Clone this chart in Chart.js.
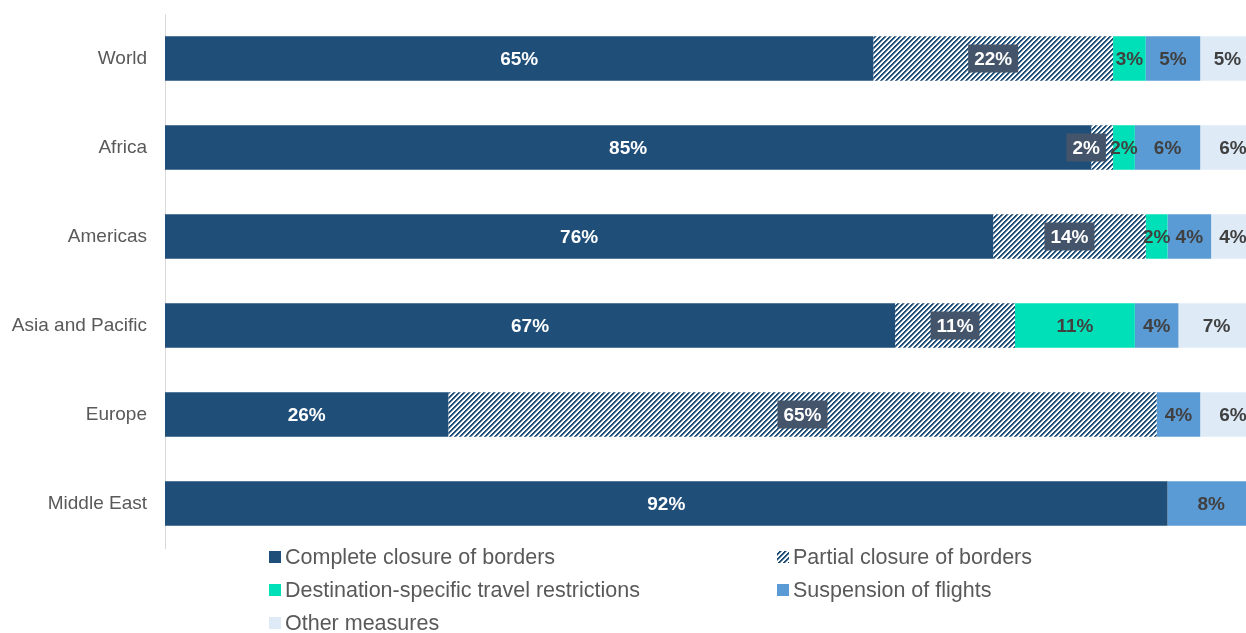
<!DOCTYPE html>
<html>
<head>
<meta charset="utf-8">
<script src="https://cdn.jsdelivr.net/npm/chart.js@4"></script>
<style>
  html, body { margin: 0; padding: 0; background: #fff; }
  #wrap { width: 1246px; height: 633px; }
</style>
</head>
<body>
<div id="wrap"><canvas id="chart" width="1246" height="633"></canvas></div>
<script>
const regions = ['World', 'Africa', 'Americas', 'Asia and Pacific', 'Europe', 'Middle East'];

const completeClosure = [65, 85, 76, 67, 26, 92];
const partialClosure  = [22, 2, 14, 11, 65, 0];
const destination     = [3, 2, 2, 11, 0, 0];
const flights         = [5, 6, 4, 4, 4, 8];
const otherMeasures   = [5, 6, 4, 7, 6, 0];

const NAVY = '#1f4e79';
const TEXT_DARK = '#404040';
const FONT = '"Liberation Sans", Arial, sans-serif';

// diagonal "/" stripes for the partial closure series, built pixel by pixel
function makeHatch() {
  const s = 5;
  const c = document.createElement('canvas');
  c.width = s; c.height = s;
  const g = c.getContext('2d');
  g.fillStyle = '#ffffff';
  g.fillRect(0, 0, s, s);
  for (let y = 0; y < s; y++) {
    for (let x = 0; x < s; x++) {
      const k = (x + y) % s;
      if (k < 2) g.fillStyle = NAVY;
      else if (k === 2) g.fillStyle = '#8fa7bc';
      else continue;
      g.fillRect(x, y, 1, 1);
    }
  }
  return g.createPattern(c, 'repeat');
}
const hatch = makeHatch();

// label style per series: text colour and whether it sits in a box
const labelStyle = [
  { color: '#ffffff', box: null },
  { color: '#ffffff', box: '#44546a' },
  { color: TEXT_DARK, box: null },
  { color: TEXT_DARK, box: null },
  { color: TEXT_DARK, box: null }
];
// the thin Africa partial slice gets its label pushed left so it does not cover its neighbour
const partialNudge = { Africa: -16 };

const valueLabels = {
  id: 'valueLabels',
  afterDatasetsDraw(chart) {
    const ctx = chart.ctx;
    ctx.save();
    ctx.font = 'bold 19px ' + FONT;
    ctx.textAlign = 'center';
    ctx.textBaseline = 'middle';
    chart.data.datasets.forEach((ds, di) => {
      const meta = chart.getDatasetMeta(di);
      const st = labelStyle[di];
      meta.data.forEach((bar, i) => {
        const v = ds.data[i];
        if (!v) return;
        let cx = (bar.x + bar.base) / 2;
        const cy = bar.y;
        const txt = v + '%';
        if (st.box) {
          cx += partialNudge[chart.data.labels[i]] || 0;
          const w = ctx.measureText(txt).width + 12;
          ctx.fillStyle = st.box;
          ctx.fillRect(cx - w / 2, cy - 14, w, 28);
        }
        ctx.fillStyle = st.color;
        ctx.fillText(txt, cx, cy + 1);
      });
    });
    ctx.restore();
  }
};

// two-column legend under the plot
const gridLegend = {
  id: 'gridLegend',
  afterDraw(chart) {
    const ctx = chart.ctx;
    const cols = [269, 777];
    const rows = [557, 590, 623];
    ctx.save();
    ctx.font = '21.5px ' + FONT;
    ctx.textBaseline = 'middle';
    ctx.textAlign = 'left';
    chart.data.datasets.forEach((ds, i) => {
      const x = cols[i % 2];
      const y = rows[Math.floor(i / 2)];
      ctx.fillStyle = ds.backgroundColor;
      ctx.fillRect(x, y - 6, 12, 12);
      ctx.fillStyle = '#595959';
      ctx.fillText(ds.label, x + 16, y + 1);
    });
    ctx.restore();
  }
};

new Chart(document.getElementById('chart'), {
  type: 'bar',
  data: {
    labels: regions,
    datasets: [
      { label: 'Complete closure of borders', data: completeClosure, backgroundColor: NAVY },
      { label: 'Partial closure of borders', data: partialClosure, backgroundColor: hatch },
      { label: 'Destination-specific travel restrictions', data: destination, backgroundColor: '#00e0b8' },
      { label: 'Suspension of flights', data: flights, backgroundColor: '#5b9bd5' },
      { label: 'Other measures', data: otherMeasures, backgroundColor: '#deebf7' }
    ]
  },
  options: {
    indexAxis: 'y',
    responsive: false,
    animation: false,
    layout: { padding: { top: 14, bottom: 85, left: 0, right: 0 } },
    datasets: { bar: { barPercentage: 0.5, categoryPercentage: 1, borderWidth: 0 } },
    scales: {
      x: { stacked: true, display: false, min: 0, max: 99.2 },
      y: {
        stacked: true,
        grid: { display: false, drawTicks: false },
        border: { color: '#d9d9d9', width: 1 },
        ticks: { padding: 18, color: '#595959', font: { family: FONT, size: 19 } },
        afterFit(scale) {
          scale.width = 165;
          scale.paddingTop = 0;
          scale.paddingBottom = 0;
        }
      }
    },
    plugins: {
      legend: { display: false },
      tooltip: { enabled: false }
    }
  },
  plugins: [valueLabels, gridLegend]
});
</script>
</body>
</html>
